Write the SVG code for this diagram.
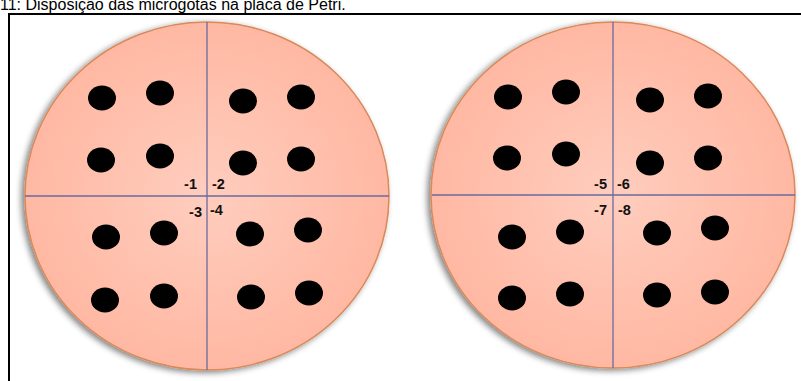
<svg xmlns="http://www.w3.org/2000/svg" width="801" height="381" viewBox="0 0 801 381">
<defs>
<radialGradient id="g" cx="0.5" cy="0.5" r="0.6">
<stop offset="0" stop-color="#FFCDBE"/>
<stop offset="1" stop-color="#FFB49D"/>
</radialGradient>
<filter id="sh" x="-10%" y="-10%" width="120%" height="120%">
<feGaussianBlur in="SourceAlpha" stdDeviation="3"/>
<feOffset dx="-3" dy="2" result="b"/>
<feComponentTransfer><feFuncA type="linear" slope="0.5"/></feComponentTransfer>
<feMerge><feMergeNode/><feMergeNode in="SourceGraphic"/></feMerge>
</filter>
</defs>
<style>
.plate{fill:url(#g);stroke:#D9895A;stroke-width:1.5;filter:url(#sh)}
.ax{stroke:#6A6A9E;stroke-width:1.3}
.dot{fill:#000}
.lbl{font-family:"Liberation Sans",Arial,sans-serif;font-weight:bold;font-size:14.5px;fill:#111}
.title{font-family:"Liberation Sans",Arial,sans-serif;font-size:16px;fill:#000}
.frame{stroke:#000;stroke-width:2;fill:none}
</style>
<rect width="801" height="381" fill="#fff"/>
<text class="title" x="0" y="10">11: Disposição das microgotas na placa de Petri.</text>
<path class="frame" d="M9,381 V14 H801"/>
<g id="plate1">
<ellipse class="plate" cx="207" cy="196" rx="182" ry="174"/>
<line class="ax" x1="25" y1="196" x2="389" y2="196"/>
<line class="ax" x1="207" y1="22" x2="207" y2="370"/>
<ellipse class="dot" cx="102" cy="98" rx="14" ry="12.5"/>
<ellipse class="dot" cx="160" cy="93" rx="14" ry="12.5"/>
<ellipse class="dot" cx="101" cy="160" rx="14" ry="12.5"/>
<ellipse class="dot" cx="160" cy="156" rx="14" ry="12.5"/>
<ellipse class="dot" cx="243" cy="101" rx="14" ry="12.5"/>
<ellipse class="dot" cx="301" cy="97" rx="14" ry="12.5"/>
<ellipse class="dot" cx="243" cy="163" rx="14" ry="12.5"/>
<ellipse class="dot" cx="301" cy="159" rx="14" ry="12.5"/>
<ellipse class="dot" cx="106" cy="237" rx="14" ry="12.5"/>
<ellipse class="dot" cx="164" cy="233" rx="14" ry="12.5"/>
<ellipse class="dot" cx="105" cy="300" rx="14" ry="12.5"/>
<ellipse class="dot" cx="164" cy="296" rx="14" ry="12.5"/>
<ellipse class="dot" cx="250" cy="234" rx="14" ry="12.5"/>
<ellipse class="dot" cx="308" cy="230" rx="14" ry="12.5"/>
<ellipse class="dot" cx="251" cy="297" rx="14" ry="12.5"/>
<ellipse class="dot" cx="309" cy="293" rx="14" ry="12.5"/>
<text class="lbl" x="197" y="189" text-anchor="end">-1</text>
<text class="lbl" x="212" y="189">-2</text>
<text class="lbl" x="202" y="217" text-anchor="end">-3</text>
<text class="lbl" x="210" y="215">-4</text>
</g>
<g id="plate2">
<ellipse class="plate" cx="613" cy="195" rx="182" ry="173"/>
<line class="ax" x1="432" y1="195" x2="795" y2="195"/>
<line class="ax" x1="613" y1="22" x2="613" y2="368"/>
<ellipse class="dot" cx="508" cy="97" rx="14" ry="12.5"/>
<ellipse class="dot" cx="566" cy="92" rx="14" ry="12.5"/>
<ellipse class="dot" cx="507" cy="158" rx="14" ry="12.5"/>
<ellipse class="dot" cx="566" cy="154" rx="14" ry="12.5"/>
<ellipse class="dot" cx="650" cy="100" rx="14" ry="12.5"/>
<ellipse class="dot" cx="708" cy="96" rx="14" ry="12.5"/>
<ellipse class="dot" cx="650" cy="163" rx="14" ry="12.5"/>
<ellipse class="dot" cx="708" cy="158" rx="14" ry="12.5"/>
<ellipse class="dot" cx="512" cy="237" rx="14" ry="12.5"/>
<ellipse class="dot" cx="570" cy="232" rx="14" ry="12.5"/>
<ellipse class="dot" cx="512" cy="298" rx="14" ry="12.5"/>
<ellipse class="dot" cx="570" cy="294" rx="14" ry="12.5"/>
<ellipse class="dot" cx="657" cy="233" rx="14" ry="12.5"/>
<ellipse class="dot" cx="715" cy="228" rx="14" ry="12.5"/>
<ellipse class="dot" cx="657" cy="295" rx="14" ry="12.5"/>
<ellipse class="dot" cx="715" cy="292" rx="14" ry="12.5"/>
<text class="lbl" x="607" y="189" text-anchor="end">-5</text>
<text class="lbl" x="617" y="189">-6</text>
<text class="lbl" x="607" y="215" text-anchor="end">-7</text>
<text class="lbl" x="618" y="215">-8</text>
</g>
</svg>
